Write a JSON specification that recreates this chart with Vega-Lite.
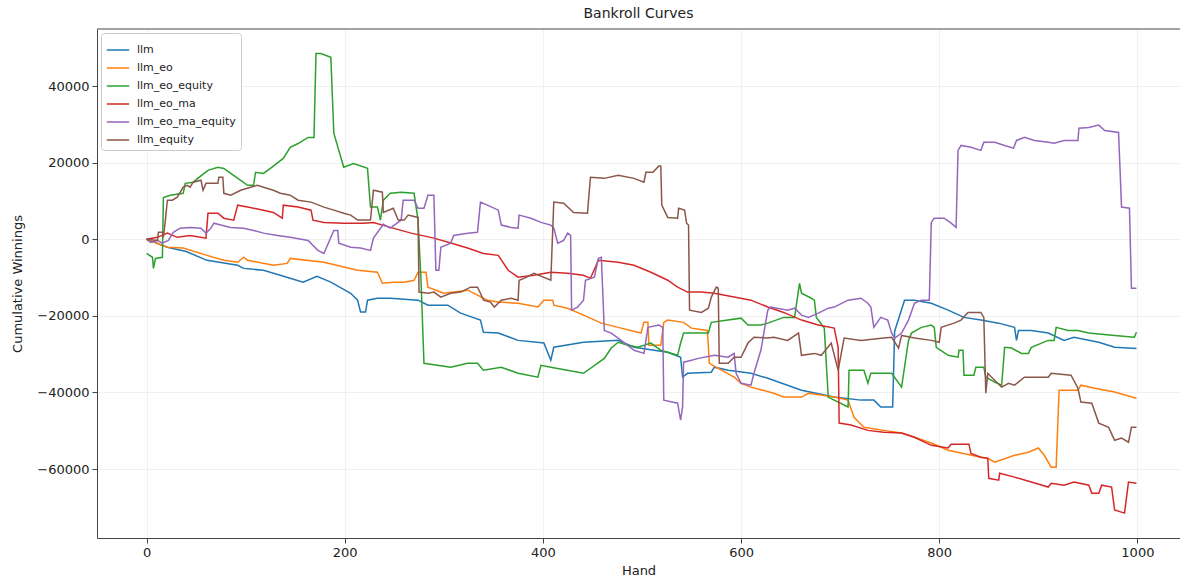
{
"$schema": "https://vega.github.io/schema/vega-lite/v6.json",
"width": 1083, "height": 509,
"autosize": {"type": "none"},
"padding": {"left": 97, "top": 29, "right": 0, "bottom": 45},
"background": "white",
"config": {"view": {"stroke": null}, "font": "DejaVu Sans"},
"title": {"text": "Bankroll Curves", "fontSize": 14, "fontWeight": "normal", "font": "DejaVu Sans", "color": "#222", "offset": 8},
"datasets": {
"series": [
{"s":"llm","h":0,"v":0},{"s":"llm","h":21,"v":-2100},{"s":"llm","h":40,"v":-3200},{"s":"llm","h":61,"v":-5500},{"s":"llm","h":92,"v":-6800},{"s":"llm","h":98,"v":-7600},{"s":"llm","h":118,"v":-8100},{"s":"llm","h":145,"v":-10200},{"s":"llm","h":158,"v":-11200},{"s":"llm","h":172,"v":-9700},{"s":"llm","h":186,"v":-11200},{"s":"llm","h":206,"v":-14100},{"s":"llm","h":213,"v":-15900},{"s":"llm","h":216,"v":-19000},{"s":"llm","h":221,"v":-19000},{"s":"llm","h":223,"v":-15900},{"s":"llm","h":233,"v":-15400},{"s":"llm","h":246,"v":-15400},{"s":"llm","h":274,"v":-15900},{"s":"llm","h":284,"v":-17200},{"s":"llm","h":304,"v":-17200},{"s":"llm","h":317,"v":-19300},{"s":"llm","h":337,"v":-21100},{"s":"llm","h":340,"v":-24300},{"s":"llm","h":355,"v":-24500},{"s":"llm","h":375,"v":-26400},{"s":"llm","h":401,"v":-27100},{"s":"llm","h":408,"v":-31600},{"s":"llm","h":411,"v":-28200},{"s":"llm","h":441,"v":-26900},{"s":"llm","h":476,"v":-26400},{"s":"llm","h":492,"v":-28200},{"s":"llm","h":526,"v":-29500},{"s":"llm","h":539,"v":-30800},{"s":"llm","h":541,"v":-36000},{"s":"llm","h":546,"v":-35000},{"s":"llm","h":570,"v":-34700},{"s":"llm","h":573,"v":-33400},{"s":"llm","h":587,"v":-34200},{"s":"llm","h":610,"v":-35000},{"s":"llm","h":627,"v":-36300},{"s":"llm","h":661,"v":-39400},{"s":"llm","h":694,"v":-41200},{"s":"llm","h":721,"v":-42000},{"s":"llm","h":734,"v":-42000},{"s":"llm","h":741,"v":-43800},{"s":"llm","h":753,"v":-43800},{"s":"llm","h":755,"v":-24000},{"s":"llm","h":765,"v":-15900},{"s":"llm","h":775,"v":-15900},{"s":"llm","h":792,"v":-16700},{"s":"llm","h":809,"v":-18500},{"s":"llm","h":825,"v":-20400},{"s":"llm","h":842,"v":-21100},{"s":"llm","h":860,"v":-21900},{"s":"llm","h":876,"v":-23000},{"s":"llm","h":878,"v":-26400},{"s":"llm","h":880,"v":-23800},{"s":"llm","h":893,"v":-23800},{"s":"llm","h":910,"v":-24500},{"s":"llm","h":926,"v":-26400},{"s":"llm","h":936,"v":-25600},{"s":"llm","h":961,"v":-26900},{"s":"llm","h":977,"v":-28200},{"s":"llm","h":999,"v":-28500},
{"s":"llm_eo","h":0,"v":0},{"s":"llm_eo","h":21,"v":-2100},{"s":"llm_eo","h":37,"v":-2300},{"s":"llm_eo","h":61,"v":-4200},{"s":"llm_eo","h":78,"v":-5500},{"s":"llm_eo","h":92,"v":-6000},{"s":"llm_eo","h":98,"v":-4700},{"s":"llm_eo","h":102,"v":-5500},{"s":"llm_eo","h":128,"v":-6800},{"s":"llm_eo","h":142,"v":-6300},{"s":"llm_eo","h":145,"v":-5000},{"s":"llm_eo","h":179,"v":-6000},{"s":"llm_eo","h":213,"v":-8100},{"s":"llm_eo","h":233,"v":-8600},{"s":"llm_eo","h":238,"v":-11500},{"s":"llm_eo","h":249,"v":-11200},{"s":"llm_eo","h":260,"v":-11200},{"s":"llm_eo","h":270,"v":-10700},{"s":"llm_eo","h":274,"v":-8600},{"s":"llm_eo","h":282,"v":-8600},{"s":"llm_eo","h":284,"v":-12500},{"s":"llm_eo","h":300,"v":-14100},{"s":"llm_eo","h":324,"v":-13300},{"s":"llm_eo","h":334,"v":-14600},{"s":"llm_eo","h":344,"v":-15900},{"s":"llm_eo","h":355,"v":-16400},{"s":"llm_eo","h":375,"v":-16700},{"s":"llm_eo","h":395,"v":-17700},{"s":"llm_eo","h":401,"v":-15900},{"s":"llm_eo","h":410,"v":-15900},{"s":"llm_eo","h":411,"v":-17200},{"s":"llm_eo","h":425,"v":-18000},{"s":"llm_eo","h":441,"v":-19800},{"s":"llm_eo","h":459,"v":-21900},{"s":"llm_eo","h":476,"v":-23000},{"s":"llm_eo","h":499,"v":-24500},{"s":"llm_eo","h":502,"v":-21700},{"s":"llm_eo","h":506,"v":-21700},{"s":"llm_eo","h":507,"v":-27700},{"s":"llm_eo","h":519,"v":-27700},{"s":"llm_eo","h":522,"v":-21700},{"s":"llm_eo","h":526,"v":-21100},{"s":"llm_eo","h":542,"v":-21700},{"s":"llm_eo","h":550,"v":-23200},{"s":"llm_eo","h":566,"v":-23800},{"s":"llm_eo","h":568,"v":-32400},{"s":"llm_eo","h":577,"v":-33700},{"s":"llm_eo","h":593,"v":-36000},{"s":"llm_eo","h":600,"v":-37600},{"s":"llm_eo","h":610,"v":-38600},{"s":"llm_eo","h":633,"v":-40200},{"s":"llm_eo","h":643,"v":-41200},{"s":"llm_eo","h":661,"v":-41200},{"s":"llm_eo","h":668,"v":-40200},{"s":"llm_eo","h":694,"v":-41200},{"s":"llm_eo","h":708,"v":-42000},{"s":"llm_eo","h":714,"v":-46500},{"s":"llm_eo","h":724,"v":-49100},{"s":"llm_eo","h":744,"v":-49900},{"s":"llm_eo","h":762,"v":-50600},{"s":"llm_eo","h":775,"v":-51700},{"s":"llm_eo","h":792,"v":-53200},{"s":"llm_eo","h":809,"v":-55100},{"s":"llm_eo","h":842,"v":-56900},{"s":"llm_eo","h":849,"v":-57200},{"s":"llm_eo","h":856,"v":-58200},{"s":"llm_eo","h":876,"v":-56400},{"s":"llm_eo","h":890,"v":-55600},{"s":"llm_eo","h":900,"v":-54500},{"s":"llm_eo","h":906,"v":-56400},{"s":"llm_eo","h":913,"v":-59500},{"s":"llm_eo","h":918,"v":-59500},{"s":"llm_eo","h":921,"v":-39400},{"s":"llm_eo","h":940,"v":-39400},{"s":"llm_eo","h":943,"v":-38100},{"s":"llm_eo","h":957,"v":-38900},{"s":"llm_eo","h":977,"v":-39900},{"s":"llm_eo","h":999,"v":-41500},
{"s":"llm_eo_equity","h":0,"v":-3700},{"s":"llm_eo_equity","h":6,"v":-4700},{"s":"llm_eo_equity","h":7,"v":-7600},{"s":"llm_eo_equity","h":9,"v":-5000},{"s":"llm_eo_equity","h":16,"v":-4700},{"s":"llm_eo_equity","h":17,"v":10900},{"s":"llm_eo_equity","h":24,"v":11500},{"s":"llm_eo_equity","h":37,"v":12000},{"s":"llm_eo_equity","h":39,"v":14600},{"s":"llm_eo_equity","h":47,"v":14900},{"s":"llm_eo_equity","h":58,"v":17200},{"s":"llm_eo_equity","h":62,"v":18000},{"s":"llm_eo_equity","h":72,"v":18800},{"s":"llm_eo_equity","h":78,"v":18500},{"s":"llm_eo_equity","h":85,"v":17200},{"s":"llm_eo_equity","h":95,"v":15400},{"s":"llm_eo_equity","h":102,"v":14100},{"s":"llm_eo_equity","h":108,"v":14100},{"s":"llm_eo_equity","h":110,"v":17500},{"s":"llm_eo_equity","h":118,"v":17200},{"s":"llm_eo_equity","h":125,"v":18500},{"s":"llm_eo_equity","h":138,"v":21100},{"s":"llm_eo_equity","h":145,"v":24000},{"s":"llm_eo_equity","h":153,"v":25000},{"s":"llm_eo_equity","h":163,"v":26600},{"s":"llm_eo_equity","h":169,"v":26600},{"s":"llm_eo_equity","h":171,"v":48500},{"s":"llm_eo_equity","h":176,"v":48500},{"s":"llm_eo_equity","h":186,"v":47500},{"s":"llm_eo_equity","h":189,"v":27700},{"s":"llm_eo_equity","h":199,"v":18800},{"s":"llm_eo_equity","h":209,"v":19800},{"s":"llm_eo_equity","h":223,"v":18500},{"s":"llm_eo_equity","h":226,"v":8400},{"s":"llm_eo_equity","h":233,"v":8400},{"s":"llm_eo_equity","h":236,"v":5000},{"s":"llm_eo_equity","h":239,"v":10200},{"s":"llm_eo_equity","h":246,"v":12000},{"s":"llm_eo_equity","h":257,"v":12300},{"s":"llm_eo_equity","h":270,"v":12000},{"s":"llm_eo_equity","h":274,"v":5000},{"s":"llm_eo_equity","h":277,"v":-10700},{"s":"llm_eo_equity","h":280,"v":-32400},{"s":"llm_eo_equity","h":307,"v":-33400},{"s":"llm_eo_equity","h":324,"v":-32400},{"s":"llm_eo_equity","h":334,"v":-32400},{"s":"llm_eo_equity","h":340,"v":-34200},{"s":"llm_eo_equity","h":358,"v":-33400},{"s":"llm_eo_equity","h":375,"v":-35000},{"s":"llm_eo_equity","h":395,"v":-36000},{"s":"llm_eo_equity","h":398,"v":-32900},{"s":"llm_eo_equity","h":408,"v":-33400},{"s":"llm_eo_equity","h":441,"v":-35000},{"s":"llm_eo_equity","h":462,"v":-31100},{"s":"llm_eo_equity","h":469,"v":-28400},{"s":"llm_eo_equity","h":476,"v":-26900},{"s":"llm_eo_equity","h":486,"v":-27700},{"s":"llm_eo_equity","h":496,"v":-28200},{"s":"llm_eo_equity","h":509,"v":-27100},{"s":"llm_eo_equity","h":519,"v":-29000},{"s":"llm_eo_equity","h":536,"v":-30300},{"s":"llm_eo_equity","h":539,"v":-27100},{"s":"llm_eo_equity","h":542,"v":-24500},{"s":"llm_eo_equity","h":567,"v":-24500},{"s":"llm_eo_equity","h":570,"v":-21700},{"s":"llm_eo_equity","h":600,"v":-20600},{"s":"llm_eo_equity","h":607,"v":-22400},{"s":"llm_eo_equity","h":620,"v":-22400},{"s":"llm_eo_equity","h":627,"v":-21900},{"s":"llm_eo_equity","h":643,"v":-20400},{"s":"llm_eo_equity","h":654,"v":-20400},{"s":"llm_eo_equity","h":659,"v":-11500},{"s":"llm_eo_equity","h":661,"v":-14100},{"s":"llm_eo_equity","h":671,"v":-15400},{"s":"llm_eo_equity","h":674,"v":-15900},{"s":"llm_eo_equity","h":676,"v":-20400},{"s":"llm_eo_equity","h":684,"v":-23200},{"s":"llm_eo_equity","h":688,"v":-41200},{"s":"llm_eo_equity","h":694,"v":-42000},{"s":"llm_eo_equity","h":708,"v":-43800},{"s":"llm_eo_equity","h":709,"v":-34200},{"s":"llm_eo_equity","h":724,"v":-34200},{"s":"llm_eo_equity","h":728,"v":-37600},{"s":"llm_eo_equity","h":731,"v":-35000},{"s":"llm_eo_equity","h":752,"v":-35000},{"s":"llm_eo_equity","h":762,"v":-38600},{"s":"llm_eo_equity","h":769,"v":-26400},{"s":"llm_eo_equity","h":772,"v":-24500},{"s":"llm_eo_equity","h":782,"v":-23000},{"s":"llm_eo_equity","h":792,"v":-22400},{"s":"llm_eo_equity","h":795,"v":-23000},{"s":"llm_eo_equity","h":797,"v":-28200},{"s":"llm_eo_equity","h":809,"v":-30300},{"s":"llm_eo_equity","h":819,"v":-30800},{"s":"llm_eo_equity","h":820,"v":-29000},{"s":"llm_eo_equity","h":824,"v":-29000},{"s":"llm_eo_equity","h":825,"v":-35500},{"s":"llm_eo_equity","h":835,"v":-35500},{"s":"llm_eo_equity","h":837,"v":-33400},{"s":"llm_eo_equity","h":845,"v":-33400},{"s":"llm_eo_equity","h":847,"v":-36000},{"s":"llm_eo_equity","h":856,"v":-37300},{"s":"llm_eo_equity","h":863,"v":-38100},{"s":"llm_eo_equity","h":866,"v":-28200},{"s":"llm_eo_equity","h":873,"v":-28400},{"s":"llm_eo_equity","h":883,"v":-29800},{"s":"llm_eo_equity","h":890,"v":-29800},{"s":"llm_eo_equity","h":893,"v":-28200},{"s":"llm_eo_equity","h":910,"v":-26400},{"s":"llm_eo_equity","h":916,"v":-26400},{"s":"llm_eo_equity","h":918,"v":-23000},{"s":"llm_eo_equity","h":930,"v":-23800},{"s":"llm_eo_equity","h":940,"v":-23800},{"s":"llm_eo_equity","h":951,"v":-24500},{"s":"llm_eo_equity","h":977,"v":-25100},{"s":"llm_eo_equity","h":997,"v":-25600},{"s":"llm_eo_equity","h":999,"v":-24300},
{"s":"llm_eo_ma","h":0,"v":0},{"s":"llm_eo_ma","h":11,"v":500},{"s":"llm_eo_ma","h":21,"v":1600},{"s":"llm_eo_ma","h":31,"v":500},{"s":"llm_eo_ma","h":44,"v":1000},{"s":"llm_eo_ma","h":60,"v":300},{"s":"llm_eo_ma","h":62,"v":6800},{"s":"llm_eo_ma","h":72,"v":6800},{"s":"llm_eo_ma","h":78,"v":5500},{"s":"llm_eo_ma","h":88,"v":5000},{"s":"llm_eo_ma","h":92,"v":8900},{"s":"llm_eo_ma","h":102,"v":8400},{"s":"llm_eo_ma","h":118,"v":7600},{"s":"llm_eo_ma","h":128,"v":7000},{"s":"llm_eo_ma","h":137,"v":5500},{"s":"llm_eo_ma","h":138,"v":8900},{"s":"llm_eo_ma","h":153,"v":8400},{"s":"llm_eo_ma","h":166,"v":7600},{"s":"llm_eo_ma","h":168,"v":5000},{"s":"llm_eo_ma","h":179,"v":4400},{"s":"llm_eo_ma","h":199,"v":4200},{"s":"llm_eo_ma","h":219,"v":4200},{"s":"llm_eo_ma","h":229,"v":4400},{"s":"llm_eo_ma","h":246,"v":3100},{"s":"llm_eo_ma","h":267,"v":1600},{"s":"llm_eo_ma","h":290,"v":300},{"s":"llm_eo_ma","h":307,"v":-1000},{"s":"llm_eo_ma","h":324,"v":-2300},{"s":"llm_eo_ma","h":340,"v":-3700},{"s":"llm_eo_ma","h":355,"v":-4200},{"s":"llm_eo_ma","h":365,"v":-8100},{"s":"llm_eo_ma","h":375,"v":-9900},{"s":"llm_eo_ma","h":391,"v":-9400},{"s":"llm_eo_ma","h":408,"v":-8600},{"s":"llm_eo_ma","h":425,"v":-8900},{"s":"llm_eo_ma","h":441,"v":-9400},{"s":"llm_eo_ma","h":448,"v":-10200},{"s":"llm_eo_ma","h":456,"v":-5500},{"s":"llm_eo_ma","h":476,"v":-6000},{"s":"llm_eo_ma","h":492,"v":-6800},{"s":"llm_eo_ma","h":509,"v":-8600},{"s":"llm_eo_ma","h":526,"v":-10700},{"s":"llm_eo_ma","h":536,"v":-12500},{"s":"llm_eo_ma","h":546,"v":-13800},{"s":"llm_eo_ma","h":560,"v":-13800},{"s":"llm_eo_ma","h":573,"v":-14100},{"s":"llm_eo_ma","h":593,"v":-15100},{"s":"llm_eo_ma","h":610,"v":-15900},{"s":"llm_eo_ma","h":627,"v":-17700},{"s":"llm_eo_ma","h":643,"v":-19100},{"s":"llm_eo_ma","h":661,"v":-21100},{"s":"llm_eo_ma","h":678,"v":-22400},{"s":"llm_eo_ma","h":694,"v":-23200},{"s":"llm_eo_ma","h":698,"v":-28200},{"s":"llm_eo_ma","h":699,"v":-48000},{"s":"llm_eo_ma","h":711,"v":-48500},{"s":"llm_eo_ma","h":728,"v":-49900},{"s":"llm_eo_ma","h":744,"v":-50400},{"s":"llm_eo_ma","h":762,"v":-50600},{"s":"llm_eo_ma","h":775,"v":-51700},{"s":"llm_eo_ma","h":792,"v":-53800},{"s":"llm_eo_ma","h":809,"v":-54500},{"s":"llm_eo_ma","h":812,"v":-53500},{"s":"llm_eo_ma","h":830,"v":-53500},{"s":"llm_eo_ma","h":832,"v":-55900},{"s":"llm_eo_ma","h":842,"v":-56900},{"s":"llm_eo_ma","h":849,"v":-57200},{"s":"llm_eo_ma","h":850,"v":-62400},{"s":"llm_eo_ma","h":860,"v":-62900},{"s":"llm_eo_ma","h":861,"v":-61100},{"s":"llm_eo_ma","h":876,"v":-62100},{"s":"llm_eo_ma","h":893,"v":-63400},{"s":"llm_eo_ma","h":910,"v":-64700},{"s":"llm_eo_ma","h":913,"v":-63700},{"s":"llm_eo_ma","h":926,"v":-64200},{"s":"llm_eo_ma","h":936,"v":-63400},{"s":"llm_eo_ma","h":951,"v":-64200},{"s":"llm_eo_ma","h":954,"v":-66300},{"s":"llm_eo_ma","h":961,"v":-66300},{"s":"llm_eo_ma","h":964,"v":-64200},{"s":"llm_eo_ma","h":974,"v":-64700},{"s":"llm_eo_ma","h":977,"v":-70700},{"s":"llm_eo_ma","h":987,"v":-71500},{"s":"llm_eo_ma","h":991,"v":-63400},{"s":"llm_eo_ma","h":999,"v":-63700},
{"s":"llm_eo_ma_equity","h":0,"v":0},{"s":"llm_eo_ma_equity","h":4,"v":-800},{"s":"llm_eo_ma_equity","h":11,"v":-300},{"s":"llm_eo_ma_equity","h":16,"v":-1000},{"s":"llm_eo_ma_equity","h":22,"v":-300},{"s":"llm_eo_ma_equity","h":27,"v":1800},{"s":"llm_eo_ma_equity","h":34,"v":2900},{"s":"llm_eo_ma_equity","h":44,"v":3100},{"s":"llm_eo_ma_equity","h":55,"v":2900},{"s":"llm_eo_ma_equity","h":60,"v":1600},{"s":"llm_eo_ma_equity","h":65,"v":2900},{"s":"llm_eo_ma_equity","h":68,"v":4200},{"s":"llm_eo_ma_equity","h":75,"v":3700},{"s":"llm_eo_ma_equity","h":85,"v":3100},{"s":"llm_eo_ma_equity","h":98,"v":2900},{"s":"llm_eo_ma_equity","h":108,"v":2300},{"s":"llm_eo_ma_equity","h":118,"v":1600},{"s":"llm_eo_ma_equity","h":132,"v":1000},{"s":"llm_eo_ma_equity","h":145,"v":500},{"s":"llm_eo_ma_equity","h":163,"v":-300},{"s":"llm_eo_ma_equity","h":173,"v":-2900},{"s":"llm_eo_ma_equity","h":179,"v":-3700},{"s":"llm_eo_ma_equity","h":189,"v":2300},{"s":"llm_eo_ma_equity","h":193,"v":2300},{"s":"llm_eo_ma_equity","h":194,"v":-1000},{"s":"llm_eo_ma_equity","h":206,"v":-2100},{"s":"llm_eo_ma_equity","h":216,"v":-2300},{"s":"llm_eo_ma_equity","h":226,"v":-2900},{"s":"llm_eo_ma_equity","h":229,"v":300},{"s":"llm_eo_ma_equity","h":239,"v":3900},{"s":"llm_eo_ma_equity","h":246,"v":2900},{"s":"llm_eo_ma_equity","h":257,"v":5000},{"s":"llm_eo_ma_equity","h":259,"v":10200},{"s":"llm_eo_ma_equity","h":270,"v":10200},{"s":"llm_eo_ma_equity","h":274,"v":8100},{"s":"llm_eo_ma_equity","h":280,"v":8100},{"s":"llm_eo_ma_equity","h":284,"v":11500},{"s":"llm_eo_ma_equity","h":290,"v":11500},{"s":"llm_eo_ma_equity","h":292,"v":-8100},{"s":"llm_eo_ma_equity","h":295,"v":-8100},{"s":"llm_eo_ma_equity","h":297,"v":-2100},{"s":"llm_eo_ma_equity","h":307,"v":-1000},{"s":"llm_eo_ma_equity","h":310,"v":1000},{"s":"llm_eo_ma_equity","h":324,"v":1600},{"s":"llm_eo_ma_equity","h":334,"v":1800},{"s":"llm_eo_ma_equity","h":337,"v":9700},{"s":"llm_eo_ma_equity","h":344,"v":8900},{"s":"llm_eo_ma_equity","h":355,"v":7600},{"s":"llm_eo_ma_equity","h":358,"v":3700},{"s":"llm_eo_ma_equity","h":368,"v":3100},{"s":"llm_eo_ma_equity","h":375,"v":2900},{"s":"llm_eo_ma_equity","h":376,"v":6300},{"s":"llm_eo_ma_equity","h":388,"v":5500},{"s":"llm_eo_ma_equity","h":398,"v":4400},{"s":"llm_eo_ma_equity","h":408,"v":3700},{"s":"llm_eo_ma_equity","h":411,"v":2900},{"s":"llm_eo_ma_equity","h":415,"v":-1000},{"s":"llm_eo_ma_equity","h":421,"v":-300},{"s":"llm_eo_ma_equity","h":425,"v":1600},{"s":"llm_eo_ma_equity","h":428,"v":1000},{"s":"llm_eo_ma_equity","h":429,"v":-18500},{"s":"llm_eo_ma_equity","h":435,"v":-17700},{"s":"llm_eo_ma_equity","h":441,"v":-15900},{"s":"llm_eo_ma_equity","h":443,"v":-10700},{"s":"llm_eo_ma_equity","h":452,"v":-9900},{"s":"llm_eo_ma_equity","h":456,"v":-5000},{"s":"llm_eo_ma_equity","h":459,"v":-4700},{"s":"llm_eo_ma_equity","h":462,"v":-23800},{"s":"llm_eo_ma_equity","h":469,"v":-24500},{"s":"llm_eo_ma_equity","h":479,"v":-26400},{"s":"llm_eo_ma_equity","h":492,"v":-29000},{"s":"llm_eo_ma_equity","h":502,"v":-29800},{"s":"llm_eo_ma_equity","h":506,"v":-23000},{"s":"llm_eo_ma_equity","h":517,"v":-22400},{"s":"llm_eo_ma_equity","h":521,"v":-23000},{"s":"llm_eo_ma_equity","h":522,"v":-42000},{"s":"llm_eo_ma_equity","h":536,"v":-42800},{"s":"llm_eo_ma_equity","h":539,"v":-47200},{"s":"llm_eo_ma_equity","h":541,"v":-43800},{"s":"llm_eo_ma_equity","h":542,"v":-32100},{"s":"llm_eo_ma_equity","h":550,"v":-31600},{"s":"llm_eo_ma_equity","h":557,"v":-31100},{"s":"llm_eo_ma_equity","h":573,"v":-30300},{"s":"llm_eo_ma_equity","h":587,"v":-30800},{"s":"llm_eo_ma_equity","h":593,"v":-29800},{"s":"llm_eo_ma_equity","h":595,"v":-35000},{"s":"llm_eo_ma_equity","h":600,"v":-37600},{"s":"llm_eo_ma_equity","h":610,"v":-38100},{"s":"llm_eo_ma_equity","h":613,"v":-35000},{"s":"llm_eo_ma_equity","h":620,"v":-29000},{"s":"llm_eo_ma_equity","h":627,"v":-18500},{"s":"llm_eo_ma_equity","h":630,"v":-17700},{"s":"llm_eo_ma_equity","h":647,"v":-18500},{"s":"llm_eo_ma_equity","h":654,"v":-18000},{"s":"llm_eo_ma_equity","h":661,"v":-19800},{"s":"llm_eo_ma_equity","h":668,"v":-20400},{"s":"llm_eo_ma_equity","h":678,"v":-19300},{"s":"llm_eo_ma_equity","h":688,"v":-18000},{"s":"llm_eo_ma_equity","h":694,"v":-17700},{"s":"llm_eo_ma_equity","h":708,"v":-15900},{"s":"llm_eo_ma_equity","h":721,"v":-15400},{"s":"llm_eo_ma_equity","h":728,"v":-16700},{"s":"llm_eo_ma_equity","h":731,"v":-17700},{"s":"llm_eo_ma_equity","h":734,"v":-23000},{"s":"llm_eo_ma_equity","h":741,"v":-20400},{"s":"llm_eo_ma_equity","h":748,"v":-21100},{"s":"llm_eo_ma_equity","h":752,"v":-24500},{"s":"llm_eo_ma_equity","h":755,"v":-25800},{"s":"llm_eo_ma_equity","h":762,"v":-24500},{"s":"llm_eo_ma_equity","h":769,"v":-21100},{"s":"llm_eo_ma_equity","h":775,"v":-16700},{"s":"llm_eo_ma_equity","h":782,"v":-15900},{"s":"llm_eo_ma_equity","h":790,"v":-15900},{"s":"llm_eo_ma_equity","h":792,"v":4400},{"s":"llm_eo_ma_equity","h":795,"v":5500},{"s":"llm_eo_ma_equity","h":805,"v":5500},{"s":"llm_eo_ma_equity","h":812,"v":4200},{"s":"llm_eo_ma_equity","h":817,"v":3100},{"s":"llm_eo_ma_equity","h":819,"v":23200},{"s":"llm_eo_ma_equity","h":822,"v":24500},{"s":"llm_eo_ma_equity","h":832,"v":24000},{"s":"llm_eo_ma_equity","h":842,"v":23200},{"s":"llm_eo_ma_equity","h":845,"v":25300},{"s":"llm_eo_ma_equity","h":856,"v":25300},{"s":"llm_eo_ma_equity","h":866,"v":24500},{"s":"llm_eo_ma_equity","h":875,"v":23800},{"s":"llm_eo_ma_equity","h":878,"v":25800},{"s":"llm_eo_ma_equity","h":886,"v":26600},{"s":"llm_eo_ma_equity","h":896,"v":25800},{"s":"llm_eo_ma_equity","h":910,"v":25300},{"s":"llm_eo_ma_equity","h":916,"v":25100},{"s":"llm_eo_ma_equity","h":926,"v":25800},{"s":"llm_eo_ma_equity","h":940,"v":25800},{"s":"llm_eo_ma_equity","h":941,"v":29000},{"s":"llm_eo_ma_equity","h":951,"v":29200},{"s":"llm_eo_ma_equity","h":961,"v":29800},{"s":"llm_eo_ma_equity","h":967,"v":28400},{"s":"llm_eo_ma_equity","h":981,"v":27900},{"s":"llm_eo_ma_equity","h":984,"v":8400},{"s":"llm_eo_ma_equity","h":992,"v":8100},{"s":"llm_eo_ma_equity","h":994,"v":-12800},{"s":"llm_eo_ma_equity","h":999,"v":-12800},
{"s":"llm_equity","h":0,"v":0},{"s":"llm_equity","h":11,"v":-300},{"s":"llm_equity","h":12,"v":1800},{"s":"llm_equity","h":16,"v":1800},{"s":"llm_equity","h":17,"v":500},{"s":"llm_equity","h":19,"v":5000},{"s":"llm_equity","h":21,"v":10200},{"s":"llm_equity","h":26,"v":10200},{"s":"llm_equity","h":31,"v":11000},{"s":"llm_equity","h":37,"v":13600},{"s":"llm_equity","h":41,"v":14100},{"s":"llm_equity","h":44,"v":13600},{"s":"llm_equity","h":47,"v":14900},{"s":"llm_equity","h":55,"v":15400},{"s":"llm_equity","h":57,"v":12800},{"s":"llm_equity","h":60,"v":14600},{"s":"llm_equity","h":72,"v":14600},{"s":"llm_equity","h":73,"v":16200},{"s":"llm_equity","h":77,"v":16200},{"s":"llm_equity","h":78,"v":12000},{"s":"llm_equity","h":85,"v":11500},{"s":"llm_equity","h":95,"v":12800},{"s":"llm_equity","h":105,"v":13600},{"s":"llm_equity","h":112,"v":14100},{"s":"llm_equity","h":118,"v":13600},{"s":"llm_equity","h":128,"v":12800},{"s":"llm_equity","h":135,"v":12000},{"s":"llm_equity","h":145,"v":11500},{"s":"llm_equity","h":153,"v":10200},{"s":"llm_equity","h":166,"v":9700},{"s":"llm_equity","h":179,"v":8400},{"s":"llm_equity","h":189,"v":7600},{"s":"llm_equity","h":199,"v":6800},{"s":"llm_equity","h":206,"v":6300},{"s":"llm_equity","h":213,"v":5000},{"s":"llm_equity","h":226,"v":5000},{"s":"llm_equity","h":229,"v":12800},{"s":"llm_equity","h":238,"v":12300},{"s":"llm_equity","h":239,"v":7000},{"s":"llm_equity","h":249,"v":8100},{"s":"llm_equity","h":254,"v":5000},{"s":"llm_equity","h":260,"v":5000},{"s":"llm_equity","h":264,"v":6300},{"s":"llm_equity","h":274,"v":5700},{"s":"llm_equity","h":275,"v":-13800},{"s":"llm_equity","h":284,"v":-14100},{"s":"llm_equity","h":290,"v":-13800},{"s":"llm_equity","h":297,"v":-15100},{"s":"llm_equity","h":307,"v":-14100},{"s":"llm_equity","h":317,"v":-13800},{"s":"llm_equity","h":327,"v":-12500},{"s":"llm_equity","h":334,"v":-12500},{"s":"llm_equity","h":337,"v":-14100},{"s":"llm_equity","h":340,"v":-15900},{"s":"llm_equity","h":347,"v":-16400},{"s":"llm_equity","h":351,"v":-17700},{"s":"llm_equity","h":358,"v":-15900},{"s":"llm_equity","h":368,"v":-15400},{"s":"llm_equity","h":375,"v":-15900},{"s":"llm_equity","h":376,"v":-10700},{"s":"llm_equity","h":381,"v":-10200},{"s":"llm_equity","h":391,"v":-8900},{"s":"llm_equity","h":408,"v":-10700},{"s":"llm_equity","h":411,"v":9700},{"s":"llm_equity","h":421,"v":9400},{"s":"llm_equity","h":431,"v":7000},{"s":"llm_equity","h":445,"v":6800},{"s":"llm_equity","h":448,"v":16200},{"s":"llm_equity","h":462,"v":15900},{"s":"llm_equity","h":476,"v":16700},{"s":"llm_equity","h":492,"v":15900},{"s":"llm_equity","h":502,"v":14900},{"s":"llm_equity","h":504,"v":17500},{"s":"llm_equity","h":511,"v":17500},{"s":"llm_equity","h":517,"v":19100},{"s":"llm_equity","h":519,"v":19100},{"s":"llm_equity","h":520,"v":8900},{"s":"llm_equity","h":526,"v":5700},{"s":"llm_equity","h":536,"v":5500},{"s":"llm_equity","h":537,"v":8100},{"s":"llm_equity","h":543,"v":7600},{"s":"llm_equity","h":545,"v":4200},{"s":"llm_equity","h":547,"v":3700},{"s":"llm_equity","h":548,"v":-18500},{"s":"llm_equity","h":560,"v":-19100},{"s":"llm_equity","h":567,"v":-18000},{"s":"llm_equity","h":570,"v":-15100},{"s":"llm_equity","h":575,"v":-12500},{"s":"llm_equity","h":577,"v":-12800},{"s":"llm_equity","h":578,"v":-32400},{"s":"llm_equity","h":587,"v":-32400},{"s":"llm_equity","h":593,"v":-30800},{"s":"llm_equity","h":600,"v":-30800},{"s":"llm_equity","h":607,"v":-27100},{"s":"llm_equity","h":613,"v":-25600},{"s":"llm_equity","h":627,"v":-25800},{"s":"llm_equity","h":633,"v":-25600},{"s":"llm_equity","h":647,"v":-26400},{"s":"llm_equity","h":658,"v":-24500},{"s":"llm_equity","h":661,"v":-30300},{"s":"llm_equity","h":674,"v":-29800},{"s":"llm_equity","h":681,"v":-30300},{"s":"llm_equity","h":691,"v":-27100},{"s":"llm_equity","h":698,"v":-34200},{"s":"llm_equity","h":704,"v":-25800},{"s":"llm_equity","h":721,"v":-26400},{"s":"llm_equity","h":744,"v":-25800},{"s":"llm_equity","h":752,"v":-25600},{"s":"llm_equity","h":759,"v":-28400},{"s":"llm_equity","h":762,"v":-25100},{"s":"llm_equity","h":775,"v":-25800},{"s":"llm_equity","h":792,"v":-26400},{"s":"llm_equity","h":800,"v":-26900},{"s":"llm_equity","h":802,"v":-23000},{"s":"llm_equity","h":815,"v":-21900},{"s":"llm_equity","h":822,"v":-21100},{"s":"llm_equity","h":829,"v":-19100},{"s":"llm_equity","h":842,"v":-19100},{"s":"llm_equity","h":845,"v":-20400},{"s":"llm_equity","h":847,"v":-40200},{"s":"llm_equity","h":849,"v":-35000},{"s":"llm_equity","h":856,"v":-36800},{"s":"llm_equity","h":863,"v":-38600},{"s":"llm_equity","h":870,"v":-37600},{"s":"llm_equity","h":876,"v":-38100},{"s":"llm_equity","h":886,"v":-36000},{"s":"llm_equity","h":910,"v":-36000},{"s":"llm_equity","h":913,"v":-35000},{"s":"llm_equity","h":933,"v":-35500},{"s":"llm_equity","h":940,"v":-38900},{"s":"llm_equity","h":943,"v":-42500},{"s":"llm_equity","h":954,"v":-42800},{"s":"llm_equity","h":961,"v":-48000},{"s":"llm_equity","h":971,"v":-49100},{"s":"llm_equity","h":977,"v":-52500},{"s":"llm_equity","h":984,"v":-51900},{"s":"llm_equity","h":991,"v":-53000},{"s":"llm_equity","h":994,"v":-49100},{"s":"llm_equity","h":999,"v":-49100}
],
"frame": [{"top": 54900}]
},
"layer": [
{
"data": {"name": "series"},
"mark": {"type": "line", "strokeWidth": 1.5, "clip": true},
"encoding": {
"x": {"field": "h", "type": "quantitative", "scale": {"domain": [-50, 1043], "nice": false, "zero": false},
"axis": {"values": [0, 200, 400, 600, 800, 1000], "title": "Hand", "format": "d", "labelFontSize": 13, "titleFontSize": 13, "titleFontWeight": "normal", "tickSize": 5, "labelPadding": 3, "titlePadding": 5, "domainColor": "#444", "tickColor": "#444", "labelColor": "#222", "titleColor": "#222", "gridColor": "#f0f0f0", "labelFlush": false}},
"y": {"field": "v", "type": "quantitative", "scale": {"domain": [-78000, 54900], "nice": false, "zero": false},
"axis": {"values": [-60000, -40000, -20000, 0, 20000, 40000], "title": "Cumulative Winnings", "format": "d", "labelFontSize": 13, "titleFontSize": 13, "titleFontWeight": "normal", "tickSize": 5, "labelPadding": 3, "titlePadding": 12, "domainColor": "#444", "tickColor": "#444", "labelColor": "#222", "titleColor": "#222", "gridColor": "#f0f0f0"}},
"color": {"field": "s", "type": "nominal",
"scale": {"domain": ["llm", "llm_eo", "llm_eo_equity", "llm_eo_ma", "llm_eo_ma_equity", "llm_equity"], "range": ["#1f77b4", "#ff7f0e", "#2ca02c", "#d62728", "#9467bd", "#8c564b"]},
"legend": {"title": null, "orient": "top-left", "offset": 4, "padding": 5, "fillColor": "white", "strokeColor": "#cccccc", "cornerRadius": 3, "symbolType": "stroke", "symbolStrokeWidth": 1.5, "symbolSize": 500, "labelFontSize": 11, "labelColor": "#222", "rowPadding": 1, "labelOffset": 7}}
}
},
{
"data": {"name": "frame"},
"mark": {"type": "rule", "color": "#444", "strokeWidth": 1},
"encoding": {"y": {"field": "top", "type": "quantitative"}}
}
]
}
